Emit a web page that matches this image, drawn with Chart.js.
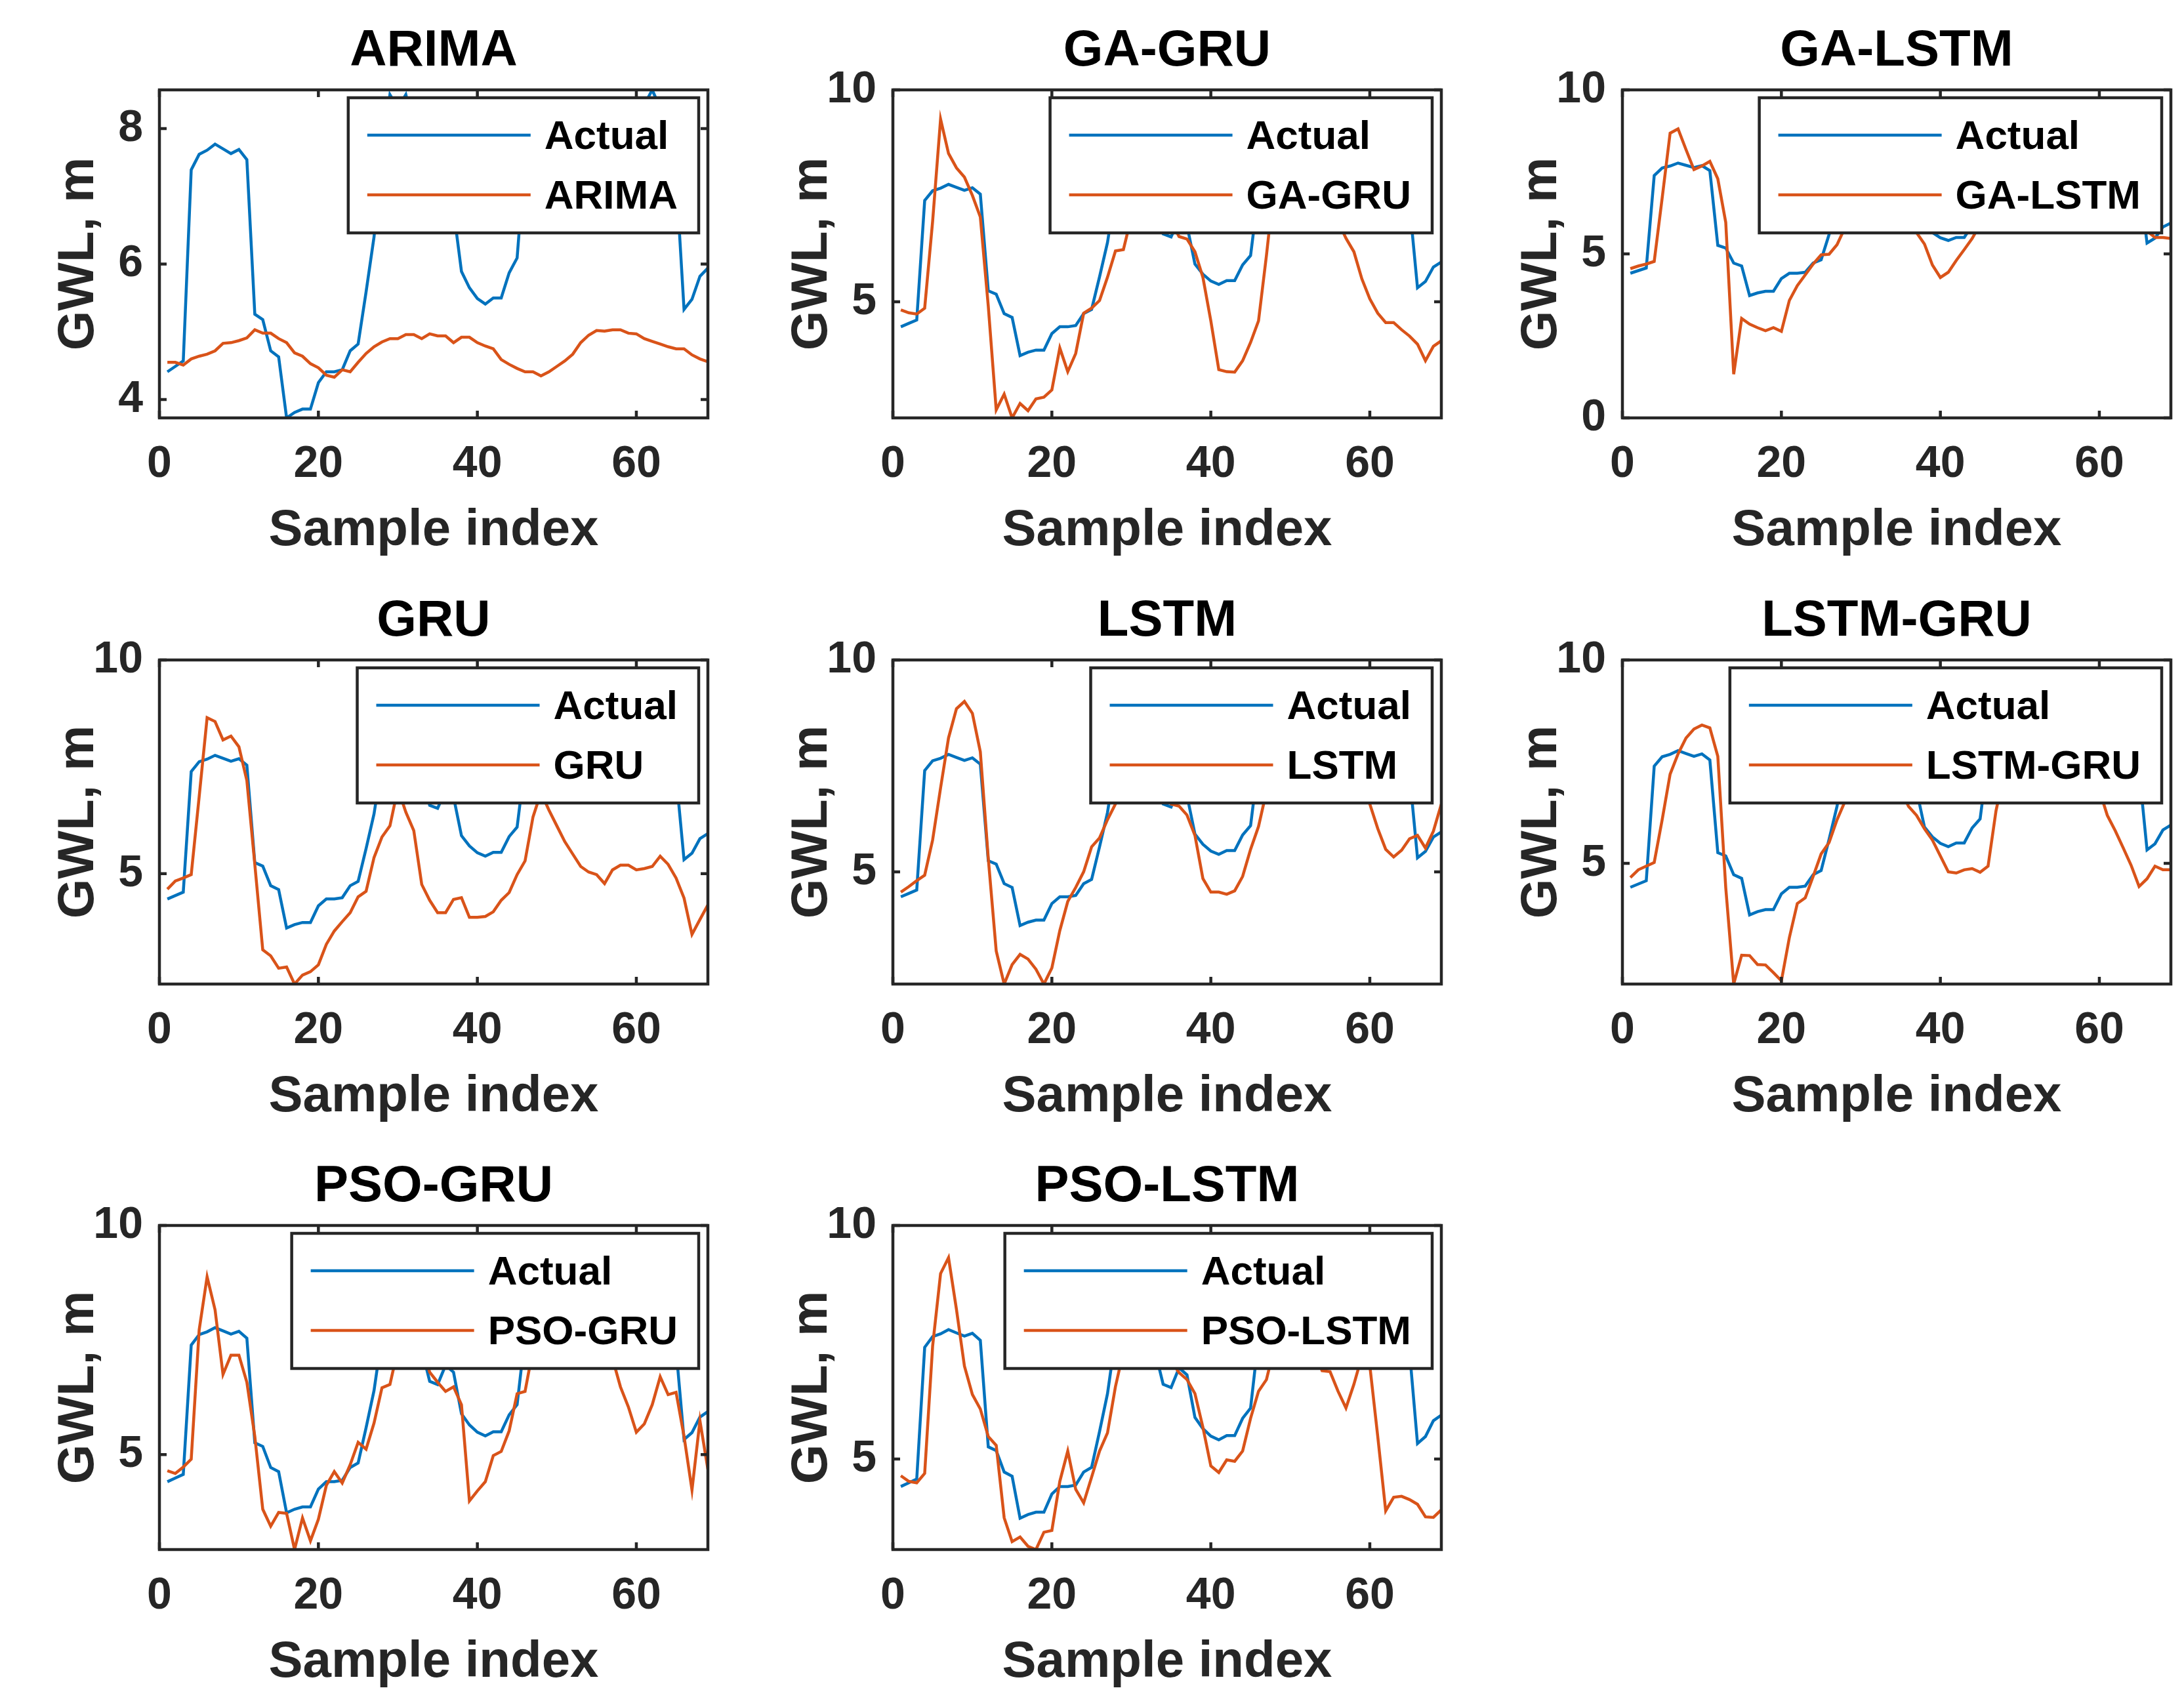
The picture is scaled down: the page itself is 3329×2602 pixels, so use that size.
<!DOCTYPE html>
<html lang="en">
<head>
  <meta charset="UTF-8">
  <title>GWL - actual vs predicted</title>
  <script src="https://cdn.jsdelivr.net/npm/chart.js"></script>
  <style>
    * {
      margin: 0;
      padding: 0;
      box-sizing: border-box;
    }

    body {
      width: 3329px;
      height: 2602px;
      background: #fff;
      position: relative;
      overflow: hidden;
    }

    .panel {
      position: absolute;
      width: 1110px;
    }
  </style>
</head>
<body>
<div id="grid"></div>

<script>
  // data (sample index 1..69)
  const models = ['ARIMA', 'GA-GRU', 'GA-LSTM', 'GRU', 'LSTM', 'LSTM-GRU', 'PSO-GRU', 'PSO-LSTM'];

  const actual = [4.41, 4.49, 4.57, 7.39, 7.62, 7.68, 7.77, 7.70, 7.63, 7.69,
    7.54, 5.26, 5.18, 4.72, 4.63, 3.73, 3.81, 3.86, 3.86, 4.25,
    4.41, 4.41, 4.44, 4.72, 4.82, 5.59, 6.40, 7.60, 8.50, 8.30,
    8.50, 8.00, 7.30, 6.60, 6.53, 6.95, 6.80, 5.89, 5.65, 5.49,
    5.41, 5.50, 5.50, 5.87, 6.09, 7.60, 7.90, 8.00, 8.20, 8.10,
    8.00, 7.90, 7.80, 7.90, 8.00, 8.10, 8.20, 8.10, 8.20, 8.30,
    8.35, 8.57, 8.30, 7.90, 7.30, 5.33, 5.48, 5.82, 5.94];

  const arima = [4.55, 4.55, 4.51, 4.60, 4.64, 4.67, 4.72, 4.83, 4.84, 4.87,
    4.91, 5.03, 4.98, 4.98, 4.90, 4.84, 4.69, 4.64, 4.53, 4.47,
    4.36, 4.33, 4.44, 4.41, 4.55, 4.68, 4.78, 4.85, 4.90, 4.90,
    4.96, 4.96, 4.90, 4.97, 4.94, 4.94, 4.84, 4.92, 4.92, 4.84,
    4.79, 4.75, 4.59, 4.52, 4.46, 4.41, 4.41, 4.35, 4.41, 4.49,
    4.57, 4.67, 4.84, 4.95, 5.02, 5.01, 5.03, 5.03, 4.98, 4.97,
    4.90, 4.86, 4.82, 4.78, 4.75, 4.75, 4.66, 4.60, 4.56];

  const gaGru = [4.81, 4.74, 4.71, 4.85, 6.90, 9.31, 8.50, 8.16, 7.94, 7.51,
    7.00, 4.90, 2.45, 2.82, 2.26, 2.60, 2.43, 2.71, 2.75, 2.92,
    3.91, 3.35, 3.78, 4.73, 4.85, 5.03, 5.58, 6.20, 6.23, 7.00,
    7.60, 8.00, 7.80, 7.40, 6.90, 6.54, 6.48, 6.18, 5.58, 4.55,
    3.40, 3.35, 3.34, 3.61, 4.04, 4.55, 6.10, 7.80, 8.30, 8.10,
    7.90, 7.80, 7.90, 7.80, 7.50, 6.90, 6.50, 6.18, 5.54, 5.07,
    4.73, 4.51, 4.51, 4.34, 4.19, 4.00, 3.61, 3.95, 4.08];

  const gaLstm = [4.55, 4.63, 4.69, 4.77, 6.70, 8.68, 8.81, 8.18, 7.57, 7.68,
    7.82, 7.29, 5.96, 1.33, 3.03, 2.86, 2.75, 2.66, 2.75, 2.64,
    3.58, 4.03, 4.36, 4.69, 4.97, 4.99, 5.28, 5.80, 6.60, 7.10,
    7.40, 7.50, 7.30, 7.00, 6.60, 6.10, 5.65, 5.30, 4.66, 4.28,
    4.44, 4.80, 5.13, 5.47, 5.90, 6.50, 7.10, 7.50, 7.70, 7.80,
    7.70, 7.60, 7.60, 7.70, 7.80, 7.80, 7.70, 7.60, 7.60, 7.70,
    7.80, 7.60, 7.00, 6.40, 5.90, 5.70, 5.50, 5.50, 5.47];

  const gru = [4.64, 4.83, 4.90, 4.98, 6.80, 8.65, 8.56, 8.13, 8.22, 7.97,
    7.18, 5.22, 3.22, 3.08, 2.79, 2.82, 2.42, 2.63, 2.71, 2.87,
    3.35, 3.66, 3.88, 4.09, 4.46, 4.59, 5.38, 5.86, 6.12, 7.00,
    6.44, 6.01, 4.75, 4.38, 4.09, 4.09, 4.40, 4.44, 3.98, 3.98,
    4.00, 4.11, 4.38, 4.56, 4.98, 5.30, 6.33, 6.90, 6.49, 6.12,
    5.75, 5.46, 5.17, 5.04, 4.98, 4.77, 5.09, 5.20, 5.20, 5.09,
    5.12, 5.17, 5.41, 5.22, 4.90, 4.43, 3.58, 3.93, 4.27];

  const lstm = [4.52, 4.65, 4.79, 4.92, 5.75, 6.98, 8.16, 8.85, 9.02, 8.74,
    7.83, 5.32, 3.13, 2.35, 2.81, 3.05, 2.94, 2.70, 2.35, 2.73,
    3.61, 4.30, 4.63, 5.00, 5.59, 5.80, 6.23, 6.60, 7.00, 7.30,
    7.50, 7.40, 7.20, 6.90, 6.60, 6.55, 6.34, 5.86, 4.84, 4.52,
    4.52, 4.47, 4.55, 4.89, 5.53, 6.07, 6.90, 7.40, 7.70, 7.90,
    7.90, 7.80, 7.70, 7.70, 7.80, 7.90, 7.80, 7.50, 7.00, 6.60,
    6.02, 5.53, 5.35, 5.51, 5.78, 5.86, 5.56, 5.96, 6.60];

  const lstmGru = [4.65, 4.84, 4.93, 5.02, 6.07, 7.19, 7.69, 8.08, 8.30, 8.40,
    8.33, 7.63, 4.40, 2.03, 2.74, 2.73, 2.51, 2.50, 2.31, 2.11,
    3.17, 4.01, 4.15, 4.68, 5.23, 5.51, 6.07, 6.52, 6.90, 7.20,
    7.40, 7.40, 7.30, 7.10, 6.80, 6.40, 6.18, 5.85, 5.57, 5.18,
    4.79, 4.76, 4.84, 4.87, 4.78, 4.93, 6.29, 7.20, 7.60, 7.80,
    7.80, 7.70, 7.60, 7.60, 7.70, 7.80, 7.80, 7.60, 7.30, 6.80,
    6.18, 5.80, 5.38, 4.95, 4.43, 4.62, 4.93, 4.84, 4.84];

  const psoGru = [4.65, 4.59, 4.73, 4.90, 7.72, 8.88, 8.16, 6.75, 7.17, 7.17,
    6.58, 5.40, 3.81, 3.44, 3.74, 3.72, 2.93, 3.62, 3.12, 3.59,
    4.33, 4.63, 4.38, 4.78, 5.27, 5.12, 5.69, 6.46, 6.53, 7.30,
    7.80, 8.00, 7.40, 6.80, 6.58, 6.38, 6.48, 6.09, 3.99, 4.21,
    4.41, 4.98, 5.07, 5.52, 6.33, 6.38, 7.30, 7.80, 8.00, 8.10,
    8.00, 7.90, 7.90, 8.00, 7.90, 7.60, 7.10, 6.48, 6.04, 5.49,
    5.67, 6.09, 6.70, 6.31, 6.36, 5.40, 4.23, 5.74, 4.68];

  const psoLstm = [4.64, 4.52, 4.49, 4.69, 7.42, 8.97, 9.31, 8.20, 6.99, 6.38,
    6.07, 5.48, 5.29, 3.74, 3.23, 3.33, 3.13, 3.06, 3.43, 3.47,
    4.52, 5.17, 4.35, 4.06, 4.61, 5.17, 5.56, 6.55, 7.30, 7.80,
    8.00, 7.90, 7.70, 7.40, 7.10, 6.85, 6.70, 6.40, 5.68, 4.85,
    4.71, 4.98, 4.95, 5.17, 5.87, 6.45, 6.70, 7.40, 7.80, 7.90,
    7.80, 7.60, 7.30, 6.89, 6.87, 6.45, 6.09, 6.60, 7.20, 7.00,
    5.48, 3.89, 4.18, 4.20, 4.13, 4.03, 3.76, 3.75, 3.91];

  const predictions = [arima, gaGru, gaLstm, gru, lstm, lstmGru, psoGru, psoLstm];

  // axis limits and ticks per panel
  const yMins = [3.73, 2.26, 0, 2.42, 2.35, 2.03, 2.93, 3.06];
  const yMaxs = [8.57, 10, 10, 10, 10, 10, 10, 10];
  const yTicks = [[4, 6, 8], [5, 10], [0, 5, 10], [5, 10], [5, 10], [5, 10], [5, 10], [5, 10]];
  const xTicks = [0, 20, 40, 60];
  const xMin = 0;
  const xMax = 69;

  const BLUE = '#0072BD';
  const ORANGE = '#D95319';
  const AXIS = '#262626';

  Chart.defaults.font.family = '"Liberation Sans", Arial, Helvetica, sans-serif';

  // matlab style: closed box, inward ticks, boxed legend top right
  const matlabFrame = {
    id: 'matlabFrame',
    afterDraw(chart) {
      const {ctx, chartArea: a, scales: {x, y}} = chart;
      ctx.save();
      ctx.strokeStyle = AXIS;
      ctx.lineWidth = 4.5;
      ctx.beginPath();
      x.ticks.forEach(t => {
        const px = x.getPixelForValue(t.value);
        ctx.moveTo(px, a.bottom);
        ctx.lineTo(px, a.bottom - 11);
        ctx.moveTo(px, a.top);
        ctx.lineTo(px, a.top + 11);
      });
      y.ticks.forEach(t => {
        const py = y.getPixelForValue(t.value);
        ctx.moveTo(a.left, py);
        ctx.lineTo(a.left + 11, py);
        ctx.moveTo(a.right, py);
        ctx.lineTo(a.right - 11, py);
      });
      ctx.stroke();
      ctx.strokeRect(a.left, a.top, a.right - a.left, a.bottom - a.top);

      // legend
      const sets = chart.data.datasets;
      ctx.font = 'bold 62px "Liberation Sans", Arial, sans-serif';
      const maxW = Math.max(...sets.map(d => ctx.measureText(d.label).width));
      const w = 299 + maxW + 32;
      const h = 206;
      const lx = a.right - 14 - w;
      const ly = a.top + 12;
      ctx.fillStyle = '#fff';
      ctx.fillRect(lx, ly, w, h);
      ctx.strokeStyle = AXIS;
      ctx.lineWidth = 4.5;
      ctx.strokeRect(lx, ly, w, h);
      sets.forEach((d, i) => {
        const ry = ly + 57 + i * 91;
        ctx.strokeStyle = d.borderColor;
        ctx.lineWidth = 4.5;
        ctx.beginPath();
        ctx.moveTo(lx + 29, ry);
        ctx.lineTo(lx + 278, ry);
        ctx.stroke();
        ctx.fillStyle = '#000';
        ctx.textAlign = 'left';
        ctx.textBaseline = 'middle';
        ctx.fillText(d.label, lx + 299, ry + 4);
      });
      ctx.restore();
    }
  };

  const colLefts = [0, 1118, 2230];
  const rowTops = [0, 869, 1731];
  const plotHeights = [500, 494, 494];
  const grid = document.getElementById('grid');

  models.forEach((name, i) => {
    const row = Math.floor(i / 3);
    const box = document.createElement('div');
    box.className = 'panel';
    box.style.left = colLefts[i % 3] + 'px';
    box.style.top = rowTops[row] + 'px';
    const canvas = document.createElement('canvas');
    canvas.width = 1110;
    canvas.height = 137 + plotHeights[row] + 230;
    box.appendChild(canvas);
    grid.appendChild(box);

    new Chart(canvas, {
      type: 'line',
      data: {
        datasets: [
          {
            label: 'Actual',
            data: actual.map((v, k) => ({x: k + 1, y: v})),
            borderColor: BLUE,
            borderWidth: 4.5,
            pointRadius: 0,
            tension: 0,
            order: 1
          },
          {
            label: name,
            data: predictions[i].map((v, k) => ({x: k + 1, y: v})),
            borderColor: ORANGE,
            borderWidth: 4.5,
            pointRadius: 0,
            tension: 0,
            order: 0
          }
        ]
      },
      options: {
        responsive: false,
        animation: false,
        devicePixelRatio: 1,
        layout: {padding: {left: 0, right: 31, top: 0, bottom: 0}},
        plugins: {
          legend: {display: false},
          tooltip: {enabled: false},
          title: {
            display: true,
            text: name,
            color: '#000',
            fullSize: false,
            font: {size: 78, weight: 'bold'},
            padding: {top: 31.2, bottom: 12.2}
          }
        },
        scales: {
          x: {
            type: 'linear',
            min: xMin,
            max: xMax,
            afterBuildTicks: s => { s.ticks = xTicks.map(v => ({value: v})); },
            afterFit: s => { s.height = 230; },
            grid: {display: false, drawTicks: false},
            border: {display: false},
            ticks: {
              color: AXIS,
              font: {size: 68, weight: 'bold'},
              padding: 30,
              maxRotation: 0,
              autoSkip: false
            },
            title: {
              display: true,
              text: 'Sample index',
              color: AXIS,
              font: {size: 78, weight: 'bold'},
              padding: {top: 0, bottom: 11}
            }
          },
          y: {
            type: 'linear',
            min: yMins[i],
            max: yMaxs[i],
            afterBuildTicks: s => { s.ticks = yTicks[i].map(v => ({value: v})); },
            afterFit: s => { s.width = 243; },
            grid: {display: false, drawTicks: false},
            border: {display: false},
            ticks: {
              color: AXIS,
              font: {size: 68, weight: 'bold'},
              padding: 25
            },
            title: {
              display: true,
              text: 'GWL, m',
              color: AXIS,
              font: {size: 78, weight: 'bold'},
              padding: {top: 74, bottom: 0}
            }
          }
        }
      },
      plugins: [matlabFrame]
    });
  });
</script>
</body>
</html>
